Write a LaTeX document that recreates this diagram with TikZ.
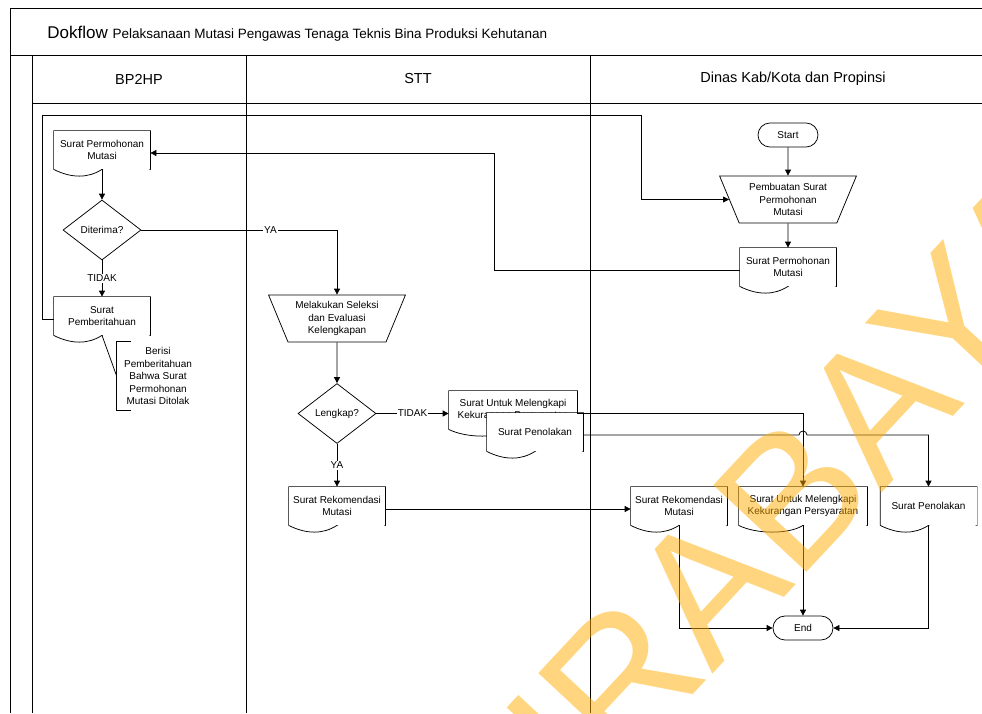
\documentclass[tikz,border=0pt]{standalone}
\usepackage{fontspec}
\setmainfont{Liberation Sans}
\usetikzlibrary{shapes.geometric,arrows.meta}
\definecolor{wmoranye}{RGB}{255,173,0}

\begin{document}
\begin{tikzpicture}[x=1pt,y=-1pt,line width=0.75pt,font=\fontsize{10}{12.5}\selectfont]
	\tikzstyle{lane} = [line width=1pt, black]
	\tikzstyle{Header} = [font=\fontsize{14.5}{17}\selectfont]
	\tikzstyle{doc} = [rectangle, fill=white, minimum width=96pt, minimum height=38pt, inner sep=1pt, align=center,
		append after command={\pgfextra{
			\fill [white] (\tikzlastnode.south west) .. controls +(18pt,-9pt) and +(-14pt,-9pt) .. (\tikzlastnode.south) .. controls +(14pt,9pt) and +(-18pt,9pt) .. (\tikzlastnode.south east) -- cycle;
			\draw (\tikzlastnode.south west) -- (\tikzlastnode.north west) -- (\tikzlastnode.north east) -- (\tikzlastnode.south east) .. controls +(-18pt,9pt) and +(14pt,9pt) .. (\tikzlastnode.south) .. controls +(-14pt,-9pt) and +(18pt,-9pt) .. (\tikzlastnode.south west);
		}}]
	\tikzstyle{proses} = [trapezium, shape border rotate=180, trapezium left angle=65, trapezium right angle=65, trapezium stretches=true, minimum width=137pt, minimum height=47pt, inner sep=1pt, align=center, draw, fill=white]
	\tikzstyle{decision} = [diamond, aspect=1.3, minimum width=78pt, minimum height=60pt, inner sep=0pt, draw, fill=white]
	\tikzstyle{terminal} = [rectangle, rounded corners=12pt, minimum width=60pt, minimum height=24pt, draw, fill=white]
	\tikzstyle{note} = [align=center, minimum width=82pt, minimum height=68pt, inner sep=0pt]
	\tikzstyle{cond} = [fill=white, inner sep=1pt]
	\tikzstyle{arrow} = [->,>={Triangle[length=6pt,width=6pt]}]
	
	\useasboundingbox (0,0) rectangle (982,713);
	
	\draw [lane] (10,713) -- (10,8) -- (982,8);
	\draw [lane] (10,55) -- (982,55);
	\draw [lane] (32,55) -- (32,713);
	\draw [lane] (32,103) -- (982,103);
	\draw [lane] (246,55) -- (246,713);
	\draw [lane] (590,55) -- (590,713);
	
	\node (judul) [anchor=base west, inner sep=0pt] at (47,38) {\fontsize{17}{20}\selectfont Dokflow \fontsize{13.5}{16}\selectfont Pelaksanaan Mutasi Pengawas Tenaga Teknis Bina Produksi Kehutanan};
	\node (bp2hp) [Header] at (139,79) {BP2HP};
	\node (stt) [Header] at (418,79) {STT};
	\node (dinas) [Header] at (793,79) {Dinas Kab/Kota dan Propinsi};
	
	\node (mulai) [terminal] at (788,135) {Start};
	\node (pembuatan) [proses] at (788,199.5) {Pembuatan Surat\\Permohonan\\Mutasi};
	\node (spm3) [doc] at (788,267) {Surat Permohonan\\Mutasi};
	
	\node (spm1) [doc] at (102,150) {Surat Permohonan\\Mutasi};
	\node (terima) [decision] at (102,230) {Diterima?};
	\node (pemberitahuan) [doc] at (102,316) {Surat\\Pemberitahuan};
	\node (ket) [note] at (158,376) {Berisi\\Pemberitahuan\\Bahwa Surat\\Permohonan\\Mutasi Ditolak};
	
	\node (seleksi) [proses] at (337,318.5) {Melakukan Seleksi\\dan Evaluasi\\Kelengkapan};
	\node (lengkap) [decision] at (337,413.5) {Lengkap?};
	\node (melengkapi) [doc, minimum width=128pt] at (513,410) {Surat Untuk Melengkapi\\Kekurangan Persyaratan};
	\node (penolakan) [doc] at (535,432) {Surat Penolakan};
	\node (rekom1) [doc] at (337,506) {Surat Rekomendasi\\Mutasi};
	
	\node (rekom2) [doc] at (679,506) {Surat Rekomendasi\\Mutasi};
	\node (melengkapi2) [doc, minimum width=128pt] at (803,506) {Surat Untuk Melengkapi\\Kekurangan Persyaratan};
	\node (penolakan2) [doc] at (928.5,506) {Surat Penolakan};
	\node (selesai) [terminal] at (803,628) {End};
	
	\draw [arrow] (mulai) -- (pembuatan);
	\draw [arrow] (pembuatan) -- (spm3);
	\draw [arrow] ([yshift=-3pt]spm3.west) -- (494,270) |- ([yshift=-3pt]spm1.east);
	\draw [arrow] (spm1) -- (terima);
	\draw [arrow] (terima) -- node [cond] {TIDAK} (pemberitahuan);
	\draw [arrow] (terima.east) -| node [cond, pos=0.33] {YA} (seleksi.north);
	\draw [arrow] ([yshift=-3pt]pemberitahuan.west) -- (42,319) -- (42,115) -- (641,115) |- (pembuatan.west);
	\draw (pemberitahuan.south) -- (ket.west);
	\draw ([xshift=14pt]ket.north west) -- (ket.north west) -- (ket.south west) -- ([xshift=14pt]ket.south west);
	
	\draw [arrow] (seleksi) -- (lengkap);
	\draw [arrow] (lengkap.east) -- node [cond] {TIDAK} (lengkap.east -| melengkapi.west);
	\draw [arrow] (lengkap) -- node [cond] {YA} (rekom1);
	\draw [arrow] ([yshift=-3pt]melengkapi.east) -| (melengkapi2.north);
	\draw [arrow] ([yshift=-3pt]penolakan.east) -- (799,435) arc [start angle=180, end angle=0, radius=4pt] -| (penolakan2.north);
	\draw [arrow] ([yshift=-3pt]rekom1.east) -- ([yshift=-3pt]rekom2.west);
	
	\draw [arrow] (rekom2.south) |- (selesai.west);
	\draw [arrow] (melengkapi2.south) -- (selesai.north);
	\draw [arrow] (penolakan2.south) |- (selesai.east);
	
	\node (watermark) [rotate=47, text=wmoranye, text opacity=0.5, font=\fontsize{185}{185}\selectfont] at (734,558) {SURABAYA};
\end{tikzpicture}
\end{document}
